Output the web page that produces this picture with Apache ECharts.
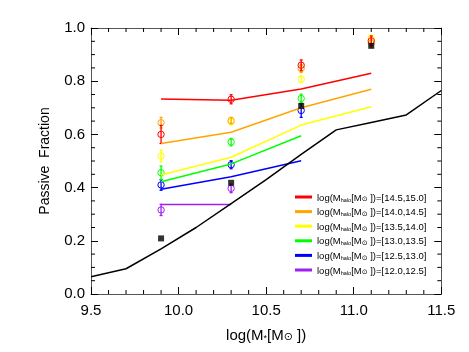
<!DOCTYPE html>
<html>
<head>
<meta charset="utf-8">
<script src="https://cdn.jsdelivr.net/npm/echarts@6/dist/echarts.min.js"></script>
<style>
  html, body { margin: 0; padding: 0; background: #fff; }
  #chart { width: 469px; height: 352px; }
</style>
</head>
<body>
<div id="chart"></div>
<script>
// stellar mass bins of the observed points / model lines
let massBins = [9.9, 10.3, 10.7, 11.1];

// halo mass ranges (legend order, top to bottom)
let haloRanges = ["14.5,15.0", "14.0,14.5", "13.5,14.0", "13.0,13.5", "12.5,13.0", "12.0,12.5"];
let haloColors = ["#ff0000", "#ffa500", "#ffff00", "#00ff00", "#0000ff", "#a020f0"];

// model lines per halo bin
let redLine = [0.733, 0.728, 0.771, 0.830];
let orangeLine = [0.566, 0.608, 0.700, 0.770];
let yellowLine = [0.447, 0.514, 0.635, 0.704];
let greenLine = [0.422, 0.489, 0.595];
let blueLine = [0.394, 0.441, 0.501];
let purpleLine = [0.336, 0.336];

// observed fractions and their errors
let redObs = [0.600, 0.732, 0.860, 0.952];
let redErr = [0.034, 0.017, 0.020, 0.018];
let orangeObs = [0.644, 0.652, 0.848, 0.943];
let orangeErr = [0.020, 0.012, 0.015, 0.015];
let yellowObs = [0.519, 0.648, 0.807, 0.962];
let yellowErr = [0.022, 0.012, 0.012, 0.010];
let greenObs = [0.456, 0.571, 0.735];
let greenErr = [0.025, 0.014, 0.016];
let blueObs = [0.410, 0.486, 0.690];
let blueErr = [0.020, 0.015, 0.026];
let purpleObs = [0.316, 0.397];
let purpleErr = [0.021, 0.016];

// all-halo points (black squares)
let allObs = [0.209, 0.418, 0.707, 0.933];

// black curve
let curveX = [9.5, 9.7, 9.9, 10.1, 10.3, 10.5, 10.7, 10.9, 11.1, 11.3, 11.5];
let curveY = [0.065, 0.095, 0.170, 0.250, 0.340, 0.430, 0.525, 0.617, 0.645, 0.673, 0.765];

// short tick positions (long ticks come from the axes themselves)
let xMinorTicks = [9.6, 9.7, 9.8, 9.9, 10.1, 10.2, 10.3, 10.4, 10.6, 10.7, 10.8, 10.9, 11.1, 11.2, 11.3, 11.4];
let yMinorTicks = [0.05, 0.1, 0.15, 0.25, 0.3, 0.35, 0.45, 0.5, 0.55, 0.65, 0.7, 0.75, 0.85, 0.9, 0.95];

let lines = [redLine, orangeLine, yellowLine, greenLine, blueLine, purpleLine];
let obs = [redObs, orangeObs, yellowObs, greenObs, blueObs, purpleObs];
let errs = [redErr, orangeErr, yellowErr, greenErr, blueErr, purpleErr];

function pairs(xs, ys) {
  return ys.map(function (y, i) { return [xs[i], y]; });
}

let chart = echarts.init(document.getElementById("chart"));
let font = "Liberation Sans, Helvetica, Arial, sans-serif";

let series = [];

// model lines
lines.forEach(function (vals, i) {
  series.push({
    name: haloRanges[i],
    type: "line",
    data: pairs(massBins, vals),
    symbol: "none",
    lineStyle: { color: haloColors[i], width: 1.5 },
    itemStyle: { color: haloColors[i] }
  });
});

// error bars + open circles, drawn bottom-up so red ends on top
for (let i = obs.length - 1; i >= 0; i--) {
  let data = obs[i].map(function (v, k) { return [massBins[k], v, errs[i][k]]; });
  series.push({
    type: "custom",
    data: data,
    renderItem: function (params, api) {
      let x = api.value(0), y = api.value(1), e = api.value(2);
      let lo = api.coord([x, y - e]), hi = api.coord([x, y + e]), c = api.coord([x, y]);
      let st = { stroke: haloColors[i], lineWidth: 1.3, fill: null };
      return {
        type: "group",
        children: [
          { type: "line", shape: { x1: lo[0], y1: lo[1], x2: hi[0], y2: hi[1] }, style: st },
          { type: "line", shape: { x1: lo[0] - 1.5, y1: lo[1], x2: lo[0] + 1.5, y2: lo[1] }, style: st },
          { type: "line", shape: { x1: hi[0] - 1.5, y1: hi[1], x2: hi[0] + 1.5, y2: hi[1] }, style: st },
          { type: "circle", shape: { cx: c[0], cy: c[1], r: 3.2 }, style: { stroke: haloColors[i], lineWidth: 1, fill: "none" } }
        ]
      };
    }
  });
}

// black squares
series.push({
  type: "scatter",
  data: pairs(massBins, allObs),
  symbol: "rect",
  symbolSize: 6,
  itemStyle: { color: "#000" },
  z: 5
});

// black curve
series.push({
  type: "line",
  data: pairs(curveX, curveY),
  symbol: "none",
  lineStyle: { color: "#000", width: 1.5 }
});

// short inward ticks on all four sides, placed through the axis scales
series.push({
  type: "custom",
  silent: true,
  z: 10,
  data: [[10.5, 0.5]],
  renderItem: function (params, api) {
    let c0 = api.coord([9.5, 0]);
    let c1 = api.coord([11.5, 1]);
    let left = c0[0], bottom = c0[1], right = c1[0], top = c1[1];
    let kids = [];
    xMinorTicks.forEach(function (v) {
      let p = api.coord([v, 0])[0];
      kids.push({ type: "line", shape: { x1: p, y1: bottom, x2: p, y2: bottom - 4 }, style: { stroke: "#000", lineWidth: 1 } });
      kids.push({ type: "line", shape: { x1: p, y1: top, x2: p, y2: top + 4 }, style: { stroke: "#000", lineWidth: 1 } });
    });
    yMinorTicks.forEach(function (v) {
      let p = api.coord([9.5, v])[1];
      kids.push({ type: "line", shape: { x1: left, y1: p, x2: left + 4, y2: p }, style: { stroke: "#000", lineWidth: 1 } });
      kids.push({ type: "line", shape: { x1: right, y1: p, x2: right - 4, y2: p }, style: { stroke: "#000", lineWidth: 1 } });
    });
    return { type: "group", children: kids };
  }
});

function frameAxis(pos, min, max, step, label) {
  return {
    type: "value",
    position: pos,
    min: min,
    max: max,
    interval: step,
    axisLine: { show: true, onZero: false },
    axisTick: { show: true, inside: true, length: 7, lineStyle: { color: "#000", width: 1 } },
    splitLine: { show: false },
    axisLabel: label
  };
}

let xLabel = {
  color: "#000", fontSize: 15, margin: 9, fontFamily: font,
  formatter: function (v) { return v.toFixed(1); }
};
let yLabel = {
  color: "#000", fontSize: 15, margin: 6, fontFamily: font,
  formatter: function (v) { return v.toFixed(1); }
};
let noLabel = { color: "rgba(0,0,0,0)" };

let xMain = frameAxis("bottom", 9.5, 11.5, 0.5, xLabel);
xMain.name = "{t|log(M}{s|*}{t|[M}{o|\u2299}{t| ])}";
xMain.nameLocation = "middle";
xMain.nameGap = 31;
xMain.nameTextStyle = {
  rich: {
    t: { fontSize: 15, fontFamily: font, color: "#000", lineHeight: 18, verticalAlign: "bottom" },
    s: { fontSize: 9, fontFamily: font, color: "#000", lineHeight: 18, verticalAlign: "bottom" },
    o: { fontSize: 11, fontFamily: "DejaVu Sans", color: "#000", lineHeight: 18, verticalAlign: "bottom" }
  }
};

let yMain = frameAxis("left", 0, 1, 0.2, yLabel);
yMain.name = "Passive  Fraction";
yMain.nameLocation = "middle";
yMain.nameGap = 39;
yMain.nameTextStyle = { color: "#000", fontSize: 14, fontFamily: font };

let option = {
  animation: false,
  grid: { left: 91, right: 27, top: 28, bottom: 58 },
  legend: {
    data: haloRanges,
    orient: "vertical",
    left: 290,
    top: 188,
    icon: "rect",
    itemWidth: 17,
    itemHeight: 3,
    itemGap: 4.6,
    selectedMode: false,
    formatter: function (name) {
      return "{t|log(M}{s|halo}{t|[M}{o|\u2299}{t| ])=[" + name + "]}";
    },
    textStyle: {
      color: "#000",
      rich: {
        t: { fontSize: 9.5, fontFamily: font, color: "#000", lineHeight: 12, verticalAlign: "bottom" },
        s: { fontSize: 5.5, fontFamily: font, color: "#000", lineHeight: 12, verticalAlign: "bottom" },
        o: { fontSize: 7, fontFamily: "DejaVu Sans", color: "#000", lineHeight: 12, verticalAlign: "bottom" }
      }
    }
  },
  xAxis: [
    xMain,
    frameAxis("top", 9.5, 11.5, 0.5, noLabel)
  ],
  yAxis: [
    yMain,
    frameAxis("right", 0, 1, 0.2, noLabel)
  ],
  series: series
};

chart.setOption(option, true);
</script>
</body>
</html>
